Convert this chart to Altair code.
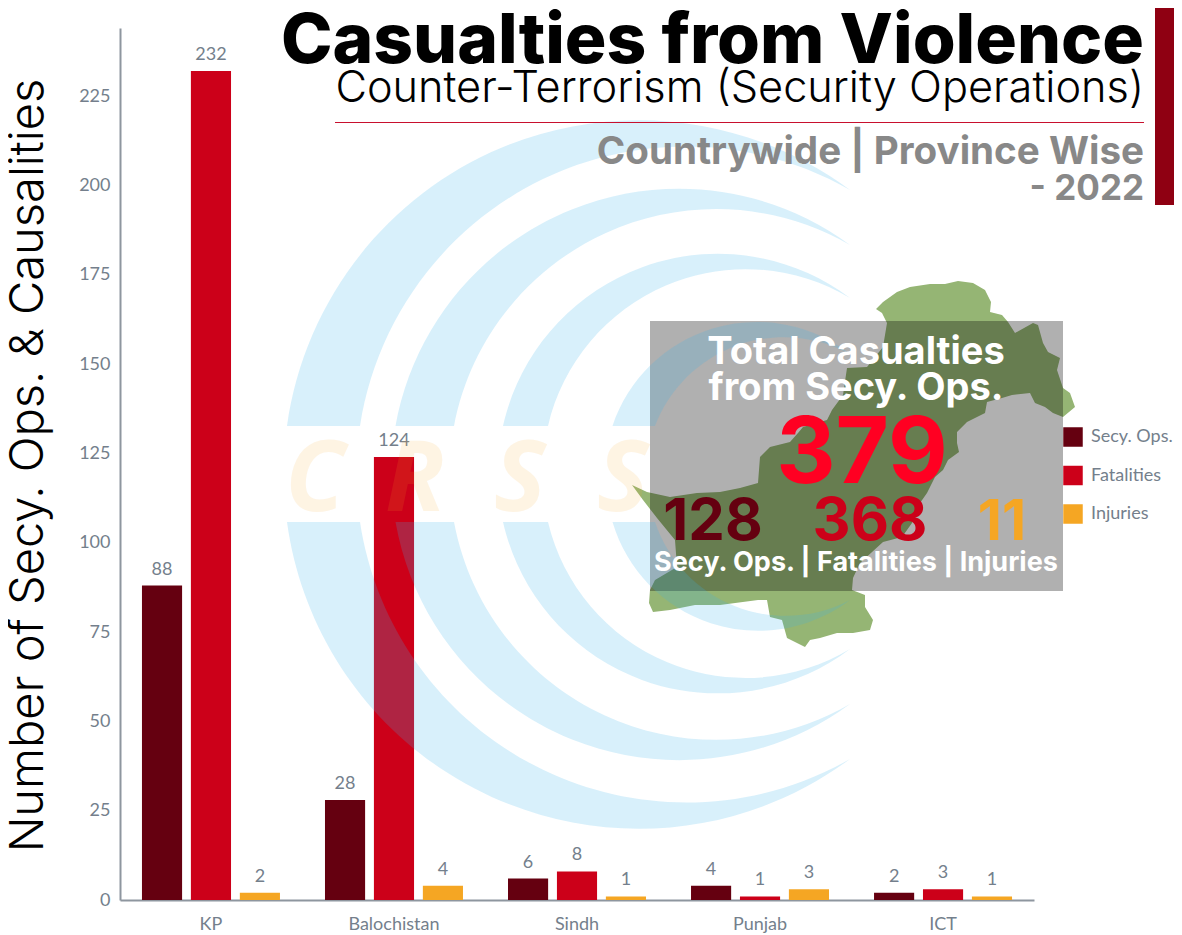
import altair as alt
import pandas as pd

# ---- data ----
provinces = ["KP", "Balochistan", "Sindh", "Punjab", "ICT"]
series_names = ["Secy. Ops.", "Fatalities", "Injuries"]
secy_ops = [88, 28, 6, 4, 2]
fatalities = [232, 124, 8, 1, 3]
injuries = [2, 4, 1, 3, 1]
series_colors = ["#650010", "#CC0019", "#F5A623"]
y_ticks = [0, 25, 50, 75, 100, 125, 150, 175, 200, 225]

rows = []
for name, vals in zip(series_names, [secy_ops, fatalities, injuries]):
    for p, v in zip(provinces, vals):
        rows.append({"province": p, "series": name, "value": v})
df = pd.DataFrame(rows)

# ---- layout helpers (page pixels -> plot pixels) ----
OX, OY = 120, 28
PLOT_W, PLOT_H = 914, 872
one = alt.Data(values=[{"a": 1}])
HEAD = "Inter"
BODY = "Lato"
AXIS_GREY = "#747F8C"


def label(text, x, y, size, color, weight=400, align="right", font=HEAD, **kw):
    return alt.Chart(one).mark_text(
        text=text, font=font, fontSize=size, fontWeight=weight, color=color,
        align=align, baseline="alphabetic", **kw
    ).encode(x=alt.value(x - OX), y=alt.value(y - OY))


def rect(x0, x1, y0, y1, color, opacity=1.0):
    return alt.Chart(one).mark_rect(color=color, opacity=opacity).encode(
        x=alt.value(x0 - OX), x2=alt.value(x1 - OX),
        y=alt.value(y0 - OY), y2=alt.value(y1 - OY))


def shape(path, color, opacity=1.0):
    return alt.Chart(one).mark_point(
        shape=path, filled=True, fill=color, opacity=opacity, strokeWidth=0, size=4, clip=False
    ).encode(x=alt.value(0), y=alt.value(0))


# ---- decoration: crescent watermark ----
BAND_TOP, BAND_BOT, TIP_X = 426, 522, 850
rings = [
    # outer x, inner x, outer R, inner R, upper tip y, lower tip y
    (287, 360, 355, 330, 190, 759),
    (395.5, 454, 288, 267, 245, 704),
    (503, 548, 220, 203, 298, 649),
    (612.5, 655, 152, 138, 354, 600),
]


def P(x, y):
    return f"{x - OX:.1f},{y - OY:.1f}"


crescents = []
for xo, xi, ro, ri, t, b in rings:
    crescents.append(
        f"M{P(xo, BAND_TOP)}A{ro},{ro} 0 0 1 {P(TIP_X, t)}A{ri},{ri} 0 0 0 {P(xi, BAND_TOP)}Z")
    crescents.append(
        f"M{P(xo, BAND_BOT)}A{ro},{ro} 0 0 0 {P(TIP_X, b)}A{ri},{ri} 0 0 1 {P(xi, BAND_BOT)}Z")
crescent_path = "".join(crescents)

# ---- decoration: map outline (page pixels) ----
map_pts = [
    (876, 309), (883, 302), (897, 292), (910, 287), (930, 284), (945, 284), (958, 281), (973, 283),
    (985, 290), (991, 302), (990, 312), (1002, 315), (1008, 322), (1015, 333), (1033, 323), (1038, 325),
    (1043, 343), (1048, 352), (1060, 358), (1057, 370), (1063, 388), (1070, 393), (1075, 407), (1063, 417),
    (1053, 413), (1045, 407), (1035, 403), (1030, 393), (1012, 395), (1002, 398), (987, 402), (985, 413),
    (967, 422), (957, 432), (957, 443), (959, 452), (948, 460), (943, 470), (935, 477), (927, 493),
    (920, 503), (912, 523), (902, 537), (883, 542), (860, 563), (853, 578), (852, 590), (865, 595),
    (865, 607), (873, 620), (870, 630), (853, 633), (837, 633), (820, 638), (810, 640), (805, 647),
    (797, 643), (787, 638), (782, 620), (770, 617), (767, 600), (758, 600), (720, 605), (695, 605),
    (670, 610), (653, 612), (649, 603), (650, 590), (655, 580), (677, 567), (675, 540), (657, 518),
    (643, 500), (632, 485), (647, 492), (670, 497), (697, 493), (720, 492), (740, 488), (758, 483),
    (760, 457), (770, 447), (790, 442), (798, 433), (803, 427), (827, 420), (832, 410), (843, 395),
    (847, 368), (867, 367), (883, 347), (887, 323), (882, 313),
]
map_path = "M" + "L".join(P(x, y) for x, y in map_pts) + "Z"

# ---- bars ----
x_enc = alt.X("province:N", sort=provinces, title=None,
              scale=alt.Scale(paddingInner=0.246, paddingOuter=0.12),
              axis=alt.Axis(labelFont=BODY, labelFontSize=18, labelColor=AXIS_GREY, labelAngle=0,
                            labelPadding=15, ticks=False, domainColor="#8E969F", domainWidth=2))
y_enc = alt.Y("value:Q", scale=alt.Scale(domain=[0, 244.05], nice=False),
              title="Number of Secy. Ops. & Causalities",
              axis=alt.Axis(values=y_ticks, grid=False, ticks=False, labelFont=BODY, labelFontSize=18,
                            labelColor=AXIS_GREY, labelPadding=10, domainColor="#8E969F", domainWidth=2,
                            titleFont=HEAD, titleFontWeight=300, titleFontSize=47, titleColor="#000000",
                            titleX=-68, titleY=437))
off_enc = alt.XOffset("series:N", sort=series_names,
                      scale=alt.Scale(paddingInner=0.18, paddingOuter=0))

bars = alt.Chart(df).mark_bar().encode(
    x=x_enc, y=y_enc, xOffset=off_enc,
    color=alt.Color("series:N", sort=series_names,
                    scale=alt.Scale(domain=series_names, range=series_colors),
                    legend=alt.Legend(orient="none", legendX=1063 - OX, legendY=427 - OY, title=None,
                                      symbolType="square", symbolSize=380, symbolStrokeWidth=0,
                                      labelFont=BODY, labelFontSize=18, labelColor=AXIS_GREY,
                                      rowPadding=18.5, labelOffset=8)))
values = alt.Chart(df).mark_text(font=BODY, fontSize=18, color=AXIS_GREY, baseline="bottom", dy=-7).encode(
    x=x_enc, y=y_enc, xOffset=off_enc, text="value:Q")

layers = [
    bars,
    values,
    shape(map_path, "#95B574"),
    rect(650, 1063, 321, 591, "#000000", 0.31),
    shape(crescent_path, "#3CB4EB", 0.2),
    label("C", 285, 511, 98, "#F9A825", 700, "left", "Open Sans", fontStyle="italic", opacity=0.12),
    label("R", 385, 511, 98, "#F9A825", 700, "left", "Open Sans", fontStyle="italic", opacity=0.12),
    label("S", 494, 511, 98, "#F9A825", 700, "left", "Open Sans", fontStyle="italic", opacity=0.12),
    label("S", 597, 511, 98, "#F9A825", 700, "left", "Open Sans", fontStyle="italic", opacity=0.12),
    rect(1155, 1174, 8, 205, "#8F0012"),
    rect(335, 1144, 122, 123, "#C8102E"),
    label("Casualties from Violence", 1144, 63, 69.4, "#000000", 800),
    label("Counter-Terrorism (Security Operations)", 1144, 102, 43.3, "#000000", 300),
    label("Countrywide | Province Wise", 1144, 164, 38.6, "#888888", 700),
    label("- 2022", 1144, 200, 35, "#888888", 700),
    label("Total Casualties", 856, 364, 38, "#FFFFFF", 700, "center"),
    label("from Secy. Ops.", 856, 400, 38, "#FFFFFF", 700, "center"),
    label("379", 862, 483, 92, "#FF0022", 700, "center"),
    label("128", 713, 540, 58, "#650010", 700, "center"),
    label("368", 870, 540, 59, "#CC0019", 700, "center"),
    label("11", 1002, 540, 56, "#F5A623", 700, "center"),
    label("Secy. Ops. | Fatalities | Injuries", 856, 571, 27, "#FFFFFF", 700, "center"),
]

chart = alt.layer(*layers).resolve_scale(x="shared", y="shared").properties(
    width=PLOT_W, height=PLOT_H,
    padding={"left": OX - 8, "top": OY - 8, "right": 140, "bottom": 34},
    autosize=alt.AutoSizeParams(type="none"),
    background="#FFFFFF",
).configure_view(stroke=None)

chart.save("out.html", embed_options={"renderer": "svg", "actions": False})
